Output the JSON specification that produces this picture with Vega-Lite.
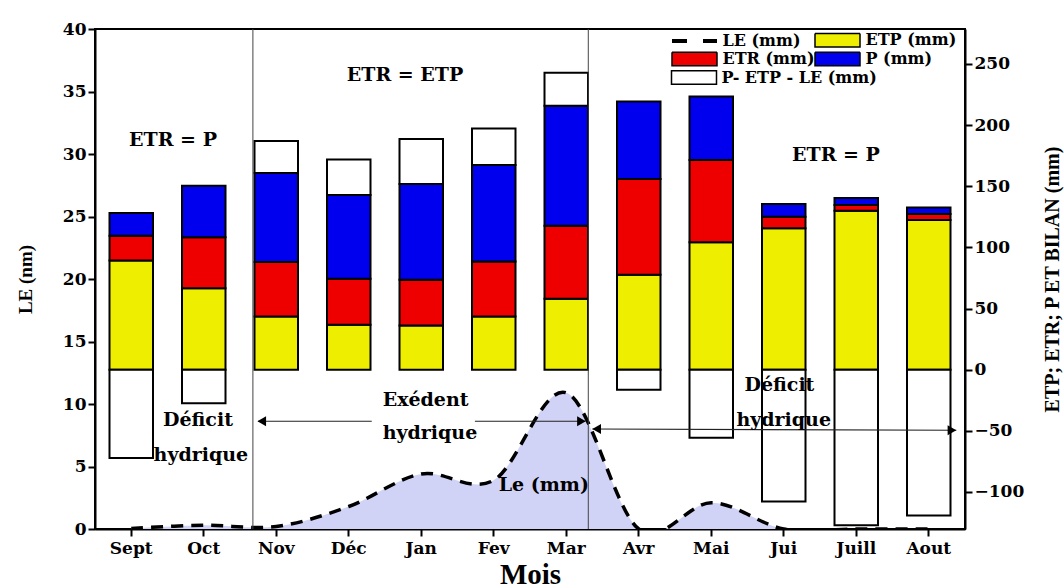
{
  "$schema": "https://vega.github.io/schema/vega-lite/v6.json",
  "width": 870,
  "height": 500,
  "autosize": {"type": "none"},
  "padding": {"left": 95, "top": 29, "right": 99, "bottom": 59},
  "background": "white",
  "config": {
    "view": {"stroke": "black", "strokeWidth": 2},
    "axis": {
      "labelFont": "DejaVu Serif", "labelFontWeight": "bold", "labelFontSize": 17, "labelColor": "black",
      "domainColor": "black", "domainWidth": 2, "tickColor": "black", "tickWidth": 2, "tickSize": 7,
      "grid": false, "titleFont": "Liberation Serif", "titleFontWeight": "bold", "titleColor": "black"
    },
    "legend": {
      "labelFont": "DejaVu Serif", "labelFontWeight": "bold", "labelFontSize": 16, "labelColor": "black", "labelLimit": 300,
      "symbolSize": 2025, "symbolStrokeColor": "black", "symbolStrokeWidth": 1.5, "symbolOpacity": 1,
      "padding": 0
    }
  },
  "datasets": {
    "bars": [
      {"m": "Sept", "s": "ETP (mm)", "v": 89.2}, {"m": "Sept", "s": "ETR (mm)", "v": 20.4}, {"m": "Sept", "s": "P (mm)", "v": 18.6}, {"m": "Sept", "s": "P- ETP - LE (mm)", "v": -72.3},
      {"m": "Oct", "s": "ETP (mm)", "v": 66.6}, {"m": "Oct", "s": "ETR (mm)", "v": 41.6}, {"m": "Oct", "s": "P (mm)", "v": 42.3}, {"m": "Oct", "s": "P- ETP - LE (mm)", "v": -27.5},
      {"m": "Nov", "s": "ETP (mm)", "v": 43.5}, {"m": "Nov", "s": "ETR (mm)", "v": 44.5}, {"m": "Nov", "s": "P (mm)", "v": 72.8}, {"m": "Nov", "s": "P- ETP - LE (mm)", "v": 26.3},
      {"m": "Déc", "s": "ETP (mm)", "v": 36.7}, {"m": "Déc", "s": "ETR (mm)", "v": 37.6}, {"m": "Déc", "s": "P (mm)", "v": 68.6}, {"m": "Déc", "s": "P- ETP - LE (mm)", "v": 29.0},
      {"m": "Jan", "s": "ETP (mm)", "v": 36.2}, {"m": "Jan", "s": "ETR (mm)", "v": 37.3}, {"m": "Jan", "s": "P (mm)", "v": 78.3}, {"m": "Jan", "s": "P- ETP - LE (mm)", "v": 36.8},
      {"m": "Fev", "s": "ETP (mm)", "v": 43.5}, {"m": "Fev", "s": "ETR (mm)", "v": 44.9}, {"m": "Fev", "s": "P (mm)", "v": 78.9}, {"m": "Fev", "s": "P- ETP - LE (mm)", "v": 29.9},
      {"m": "Mar", "s": "ETP (mm)", "v": 58.0}, {"m": "Mar", "s": "ETR (mm)", "v": 59.8}, {"m": "Mar", "s": "P (mm)", "v": 98.0}, {"m": "Mar", "s": "P- ETP - LE (mm)", "v": 27.1},
      {"m": "Avr", "s": "ETP (mm)", "v": 77.6}, {"m": "Avr", "s": "ETR (mm)", "v": 78.3}, {"m": "Avr", "s": "P (mm)", "v": 63.5}, {"m": "Avr", "s": "P- ETP - LE (mm)", "v": -16.5},
      {"m": "Mai", "s": "ETP (mm)", "v": 104.2}, {"m": "Mai", "s": "ETR (mm)", "v": 67.2}, {"m": "Mai", "s": "P (mm)", "v": 52.0}, {"m": "Mai", "s": "P- ETP - LE (mm)", "v": -55.7},
      {"m": "Jui", "s": "ETP (mm)", "v": 115.6}, {"m": "Jui", "s": "ETR (mm)", "v": 9.5}, {"m": "Jui", "s": "P (mm)", "v": 10.4}, {"m": "Jui", "s": "P- ETP - LE (mm)", "v": -107.8},
      {"m": "Juill", "s": "ETP (mm)", "v": 130.0}, {"m": "Juill", "s": "ETR (mm)", "v": 4.7}, {"m": "Juill", "s": "P (mm)", "v": 5.7}, {"m": "Juill", "s": "P- ETP - LE (mm)", "v": -127.2},
      {"m": "Aout", "s": "ETP (mm)", "v": 122.4}, {"m": "Aout", "s": "ETR (mm)", "v": 4.9}, {"m": "Aout", "s": "P (mm)", "v": 5.4}, {"m": "Aout", "s": "P- ETP - LE (mm)", "v": -119.2}
    ],
    "le": [
      {"m": "Sept", "LE": 0.05}, {"m": "Oct", "LE": 0.3}, {"m": "Nov", "LE": 0.2}, {"m": "Déc", "LE": 1.8},
      {"m": "Jan", "LE": 4.4}, {"m": "Fev", "LE": 3.9}, {"m": "Mar", "LE": 10.9}, {"m": "Avr", "LE": 0},
      {"m": "Mai", "LE": 2.1}, {"m": "Jui", "LE": 0}, {"m": "Juill", "LE": 0}, {"m": "Aout", "LE": 0}
    ],
    "vlines": [{"pos": 2.678}, {"pos": 7.304}],
    "arrows": [
      {"x1": 2.75, "x2": 4.317, "y1": 8.62, "y2": 8.62},
      {"x1": 5.74, "x2": 7.26, "y1": 8.62, "y2": 8.62},
      {"x1": 7.36, "x2": 12.38, "y1": 8.0, "y2": 7.9}
    ],
    "heads": [
      {"pos": 2.80, "v": 8.62, "d": "L"},
      {"pos": 7.21, "v": 8.62, "d": "R"},
      {"pos": 7.42, "v": 8.0, "d": "L"},
      {"pos": 12.32, "v": 7.9, "d": "R"}
    ],
    "notes": [
      {"t": "ETR = P", "pos": 1.576, "v": 31.1},
      {"t": "ETR = ETP", "pos": 4.776, "v": 36.3},
      {"t": "ETR = P", "pos": 10.72, "v": 29.95},
      {"t": "Déficit", "pos": 1.92, "v": 8.75},
      {"t": "hydrique", "pos": 1.96, "v": 5.95},
      {"t": "Exédent", "pos": 5.06, "v": 10.35},
      {"t": "hydrique", "pos": 5.12, "v": 7.66},
      {"t": "Déficit", "pos": 9.94, "v": 11.5},
      {"t": "hydrique", "pos": 10.0, "v": 8.74},
      {"t": "Le (mm)", "pos": 6.69, "v": 3.54}
    ]
  },
  "layer": [
    {
      "layer": [
        {
          "data": {"name": "bars"},
          "mark": {"type": "bar", "strokeWidth": 2},
          "encoding": {
            "x": {
              "field": "m", "type": "nominal",
              "scale": {"type": "band", "domain": ["Sept", "Oct", "Nov", "Déc", "Jan", "Fev", "Mar", "Avr", "Mai", "Jui", "Juill", "Aout"], "paddingInner": 0.4, "paddingOuter": 0.2},
              "axis": {"title": "Mois", "labelAngle": 0, "labelPadding": 4, "titleFontSize": 29, "titlePadding": 4}
            },
            "y": {
              "field": "v", "type": "quantitative", "stack": "zero",
              "scale": {"domain": [-130.3, 278.6], "nice": false, "zero": false},
              "axis": {"orient": "right", "values": [-100, -50, 0, 50, 100, 150, 200, 250], "title": "ETP; ETR; P ET BILAN (mm)", "titleFontSize": 20, "titleAngle": 270, "titlePadding": 39}
            },
            "order": {"field": "s", "type": "nominal", "sort": "ascending"},
            "fill": {
              "field": "s", "type": "nominal",
              "scale": {"domain": ["LE (mm)", "ETP (mm)", "ETR (mm)", "P (mm)", "P- ETP - LE (mm)"], "range": ["black", "#eeee00", "#ee0000", "#0000ee", "white"]},
              "legend": {
                "title": null, "orient": "none", "legendX": 577, "legendY": 3,
                "values": ["LE (mm)", "ETP (mm)", "ETR (mm)", "P (mm)"],
                "direction": "horizontal", "columns": 2,
                "columnPadding": -12, "rowPadding": -1,
                "symbolOffset": 14.5, "labelOffset": 20,
                "symbolType": "M-1,-0.3H1V0.3H-1Z",
                "encode": {"symbols": {"update": {
                  "shape": {"signal": "datum.value === 'LE (mm)' ? 'M-1,0H1' : 'M-1,-0.3H1V0.3H-1Z'"},
                  "strokeDash": {"signal": "datum.value === 'LE (mm)' ? [15,16] : [1,0]"},
                  "strokeWidth": {"signal": "datum.value === 'LE (mm)' ? 4 : 1.5"},
                  "stroke": {"value": "black"}
                }}}
              }
            },
            "stroke": {
              "datum": "P- ETP - LE (mm)",
              "scale": {"domain": ["P- ETP - LE (mm)"], "range": ["black"]},
              "legend": {
                "title": null, "orient": "none", "legendX": 577, "legendY": 25,
                "symbolOffset": -1.5, "labelOffset": 4,
                "symbolType": "M-1,-0.3H1V0.3H-1Z", "symbolFillColor": "white",
                "encode": {"symbols": {"update": {"fill": {"value": "white"}, "stroke": {"value": "black"}, "strokeWidth": {"value": 1.5}}}}
              }
            }
          }
        },
        {
          "data": {"name": "le"},
          "layer": [
            {
              "mark": {"type": "area", "interpolate": "cardinal", "clip": true, "color": "#d0d3f6"},
              "encoding": {
                "x": {
                  "field": "m", "type": "nominal",
                  "scale": {"type": "band", "domain": ["Sept", "Oct", "Nov", "Déc", "Jan", "Fev", "Mar", "Avr", "Mai", "Jui", "Juill", "Aout"], "paddingInner": 0.4, "paddingOuter": 0.2},
                  "axis": {"title": "Mois", "labelAngle": 0, "labelPadding": 4, "titleFontSize": 29, "titlePadding": 4}
                },
                "y": {
                  "field": "LE", "type": "quantitative",
                  "scale": {"domain": [0, 40], "nice": false},
                  "axis": {"orient": "left", "values": [0, 5, 10, 15, 20, 25, 30, 35, 40], "title": "LE (nm)", "titleFontSize": 19, "titlePadding": 27}
                }
              }
            },
            {
              "mark": {"type": "line", "interpolate": "cardinal", "clip": true, "color": "black", "strokeWidth": 3.5, "strokeDash": [12, 8]},
              "encoding": {
                "x": {
                  "field": "m", "type": "nominal",
                  "scale": {"type": "band", "domain": ["Sept", "Oct", "Nov", "Déc", "Jan", "Fev", "Mar", "Avr", "Mai", "Jui", "Juill", "Aout"], "paddingInner": 0.4, "paddingOuter": 0.2},
                  "axis": {"title": "Mois", "labelAngle": 0, "labelPadding": 4, "titleFontSize": 29, "titlePadding": 4}
                },
                "y": {
                  "field": "LE", "type": "quantitative",
                  "scale": {"domain": [0, 40], "nice": false},
                  "axis": {"orient": "left", "values": [0, 5, 10, 15, 20, 25, 30, 35, 40], "title": "LE (nm)", "titleFontSize": 19, "titlePadding": 27}
                }
              }
            }
          ]
        }
      ],
      "resolve": {"scale": {"y": "independent"}}
    },
    {
      "layer": [
        {
          "data": {"name": "vlines"},
          "mark": {"type": "rule", "color": "#444444", "strokeWidth": 1},
          "encoding": {
            "x": {"field": "pos", "type": "quantitative", "scale": {"domain": [0.5, 12.5], "nice": false, "zero": false}, "axis": null}
          }
        },
        {
          "data": {"name": "arrows"},
          "mark": {"type": "rule", "color": "#222222", "strokeWidth": 1.2},
          "encoding": {
            "x": {"field": "x1", "type": "quantitative", "scale": {"domain": [0.5, 12.5], "nice": false, "zero": false}, "axis": null},
            "x2": {"field": "x2"},
            "y": {"field": "y1", "type": "quantitative", "scale": {"domain": [0, 40], "nice": false}, "axis": null},
            "y2": {"field": "y2"}
          }
        },
        {
          "data": {"name": "heads"},
          "mark": {"type": "point", "filled": true, "color": "black", "size": 100, "opacity": 1},
          "encoding": {
            "x": {"field": "pos", "type": "quantitative", "scale": {"domain": [0.5, 12.5], "nice": false, "zero": false}, "axis": null},
            "y": {"field": "v", "type": "quantitative", "scale": {"domain": [0, 40], "nice": false}, "axis": null},
            "shape": {"field": "d", "type": "nominal", "scale": {"domain": ["L", "R"], "range": ["triangle-left", "triangle-right"]}, "legend": null}
          }
        },
        {
          "data": {"name": "notes"},
          "mark": {"type": "text", "font": "DejaVu Serif", "fontWeight": "bold", "fontSize": 19, "color": "black", "align": "center", "baseline": "middle"},
          "encoding": {
            "x": {"field": "pos", "type": "quantitative", "scale": {"domain": [0.5, 12.5], "nice": false, "zero": false}, "axis": null},
            "y": {"field": "v", "type": "quantitative", "scale": {"domain": [0, 40], "nice": false}, "axis": null},
            "text": {"field": "t"}
          }
        }
      ]
    }
  ],
  "resolve": {"scale": {"x": "independent", "y": "independent"}}
}
